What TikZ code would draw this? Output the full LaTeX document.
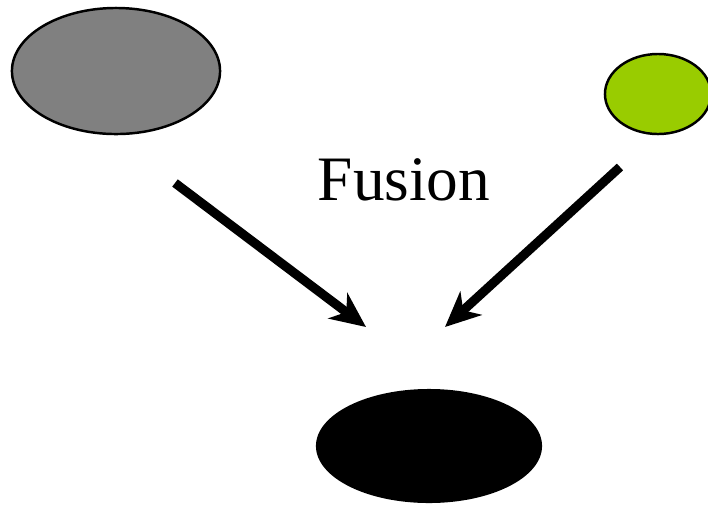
\documentclass[tikz,border=0pt]{standalone}
\usepackage{fontspec}
\setmainfont{Liberation Serif}
\definecolor{BlobGray}{RGB}{128,128,128}
\definecolor{BlobGreen}{RGB}{153,204,0}
\usepackage{tikz}
\usetikzlibrary{arrows.meta, positioning, shapes.geometric}

\begin{document}
\begin{tikzpicture}[x=0.01cm, y=-0.01cm,
	blob/.style={ellipse, draw=black, line width=0.7pt, inner sep=0pt},
	fusearrow/.style={line width=2.6pt, -{Stealth[length=10pt, width=9pt, inset=3pt]}}]
	\useasboundingbox (0,0) rectangle (708,505);
	\node[blob, fill=BlobGray, minimum width=2.08cm, minimum height=1.26cm] (heavy) at (116,71) {};
	\node[blob, fill=BlobGreen, minimum width=1.06cm, minimum height=0.80cm] (light) at (658,94) {};
	\node[ellipse, fill=black, inner sep=0pt, minimum width=2.26cm, minimum height=1.14cm] (product) at (429,446) {};
	\node[font=\fontsize{18}{20}\selectfont] (fusion) at (404,180) {Fusion};
	% arrow ends
	\coordinate (heavyend) at (175,183);
	\coordinate (lightend) at (620,167);
	\coordinate (tipA) at (366,327);
	\coordinate (tipB) at (445,327);
	\draw[fusearrow] (heavyend) -- (tipA);
	\draw[fusearrow] (lightend) -- (tipB);
\end{tikzpicture}
\end{document}
